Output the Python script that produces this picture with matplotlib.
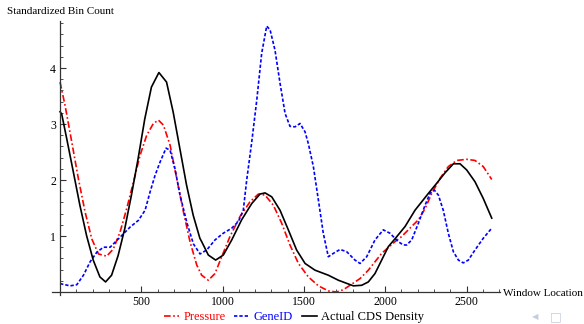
import matplotlib.pyplot as plt
from matplotlib.ticker import FixedLocator, MultipleLocator

# values
pressure_x = [0, 31, 72, 113, 154, 195, 236, 287, 328, 369, 410, 451, 492, 533, 574, 605,
              636, 677, 718, 759, 800, 841, 871, 912, 953, 994, 1045, 1107, 1168, 1220,
              1261, 1312, 1363, 1414, 1466, 1527, 1589, 1650, 1700, 1742, 1804, 1845, 1896,
              1937, 1978, 2060, 2101, 2152, 2204, 2245, 2286, 2337, 2388, 2440, 2501, 2552,
              2603, 2655]
pressure_y = [3.75, 3.33, 2.68, 2.02, 1.43, 0.95, 0.68, 0.64, 0.77, 1.07, 1.49, 1.96, 2.44,
              2.80, 3.01, 3.07, 2.98, 2.62, 2.02, 1.43, 0.89, 0.48, 0.30, 0.21, 0.33, 0.63,
              0.99, 1.35, 1.61, 1.75, 1.73, 1.55, 1.23, 0.84, 0.51, 0.27, 0.11, 0.02, 0.00,
              0.04, 0.16, 0.24, 0.39, 0.54, 0.69, 0.90, 0.99, 1.14, 1.29, 1.49, 1.76, 2.03,
              2.24, 2.35, 2.37, 2.35, 2.24, 2.01]

geneid_x = [0, 62, 103, 144, 185, 226, 267, 308, 349, 390, 431, 482, 523, 554, 584, 615,
            652, 677, 707, 738, 779, 820, 861, 902, 953, 1004, 1056, 1097, 1127, 1148,
            1179, 1210, 1240, 1271, 1292, 1322, 1353, 1384, 1414, 1445, 1476, 1507, 1527,
            1558, 1589, 1619, 1650, 1681, 1722, 1763, 1814, 1845, 1886, 1937, 1988, 2029,
            2080, 2111, 2132, 2163, 2204, 2245, 2275, 2302, 2327, 2357, 2388, 2419, 2450,
            2480, 2511, 2552, 2603, 2655]
geneid_y = [0.15, 0.11, 0.13, 0.30, 0.54, 0.71, 0.80, 0.80, 0.92, 1.04, 1.16, 1.28, 1.46,
            1.79, 2.08, 2.32, 2.57, 2.53, 2.20, 1.73, 1.25, 0.86, 0.68, 0.75, 0.93, 1.05,
            1.14, 1.26, 1.46, 2.00, 2.68, 3.43, 4.26, 4.75, 4.68, 4.32, 3.73, 3.19, 2.96,
            2.95, 3.01, 2.86, 2.65, 2.24, 1.64, 1.05, 0.63, 0.69, 0.76, 0.72, 0.57, 0.51,
            0.63, 0.93, 1.11, 1.05, 0.90, 0.84, 0.84, 0.93, 1.23, 1.55, 1.76, 1.82, 1.73,
            1.46, 1.05, 0.72, 0.57, 0.52, 0.57, 0.75, 0.96, 1.14]

cds_x = [0, 10, 41, 82, 122, 163, 204, 245, 280, 317, 357, 398, 439, 480, 521, 562, 608,
         655, 696, 737, 778, 819, 860, 871, 912, 957, 1004, 1056, 1117, 1179, 1230, 1261,
         1302, 1353, 1404, 1455, 1507, 1568, 1650, 1712, 1804, 1855, 1896, 1937, 1978,
         2019, 2060, 2122, 2183, 2224, 2265, 2316, 2368, 2419, 2460, 2501, 2552, 2603, 2655]
cds_y = [3.22, 3.18, 2.74, 2.14, 1.55, 1.01, 0.57, 0.27, 0.18, 0.30, 0.65, 1.13, 1.73,
         2.38, 3.09, 3.66, 3.92, 3.75, 3.21, 2.56, 1.91, 1.37, 0.96, 0.90, 0.66, 0.57,
         0.66, 0.93, 1.29, 1.58, 1.75, 1.77, 1.70, 1.46, 1.11, 0.75, 0.51, 0.39, 0.30,
         0.21, 0.11, 0.12, 0.18, 0.33, 0.57, 0.81, 0.95, 1.17, 1.46, 1.61, 1.76, 1.94,
         2.13, 2.29, 2.29, 2.18, 1.97, 1.67, 1.32]

x_labels = [500, 1000, 1500, 2000, 2500]
y_labels = [1, 2, 3, 4]

plt.rcParams['font.family'] = ['Liberation Serif', 'DejaVu Sans']

fig = plt.figure(figsize=(5.84, 3.24), dpi=100)
ax = fig.add_axes([0.0889, 0.0901, 0.7673, 0.845])

ax.plot(pressure_x, pressure_y, color='#ff0000', lw=1.2, dashes=(4, 1.5, 1, 1.5), label='Pressure')
ax.plot(geneid_x, geneid_y, color='#0000ff', lw=1.2, dashes=(2, 1.2), label='GeneID')
ax.plot(cds_x, cds_y, color='black', lw=1.2, label='Actual CDS Density')

ax.set_xlim(-50, 2706)
ax.set_ylim(-0.05, 4.84)

for s in ['top', 'right']:
    ax.spines[s].set_visible(False)
ax.spines['left'].set_position(('data', 0))
ax.spines['bottom'].set_position(('data', 0))
for s in ['left', 'bottom']:
    ax.spines[s].set_linewidth(0.9)
    ax.spines[s].set_color('#333333')

ax.xaxis.set_major_locator(FixedLocator(x_labels))
ax.xaxis.set_minor_locator(MultipleLocator(100))
ax.yaxis.set_major_locator(FixedLocator(y_labels))
ax.yaxis.set_minor_locator(MultipleLocator(0.2))
ax.tick_params(which='both', direction='in', color='#333333', labelsize=8.5, pad=3)
ax.tick_params(which='major', length=4, width=0.8)
ax.tick_params(which='minor', length=2, width=0.6)

fig.text(7 / 584, 1 - 12 / 324, 'Standardized Bin Count', fontsize=8, va='center', ha='left')
fig.text(503 / 584, 1 - 293 / 324, 'Window Location', fontsize=8, va='center', ha='left')

fig.legend(loc='center', bbox_to_anchor=(294 / 584, 1 - 317 / 324), ncol=3, frameon=False,
           fontsize=9, handlelength=1.2, handletextpad=0.35, columnspacing=0.7,
           labelcolor=['#ff0000', '#0000ff', 'black'])

fig.text(532 / 584, 1 - 317 / 324, '\u25c0', fontsize=6, color='#c5cde0', va='center',
         family=['DejaVu Sans'])
fig.text(550 / 584, 1 - 317 / 324, '\u25a1', fontsize=9, color='#c5cde0', va='center',
         family=['DejaVu Sans'])

fig.savefig('out.png', dpi=100)
